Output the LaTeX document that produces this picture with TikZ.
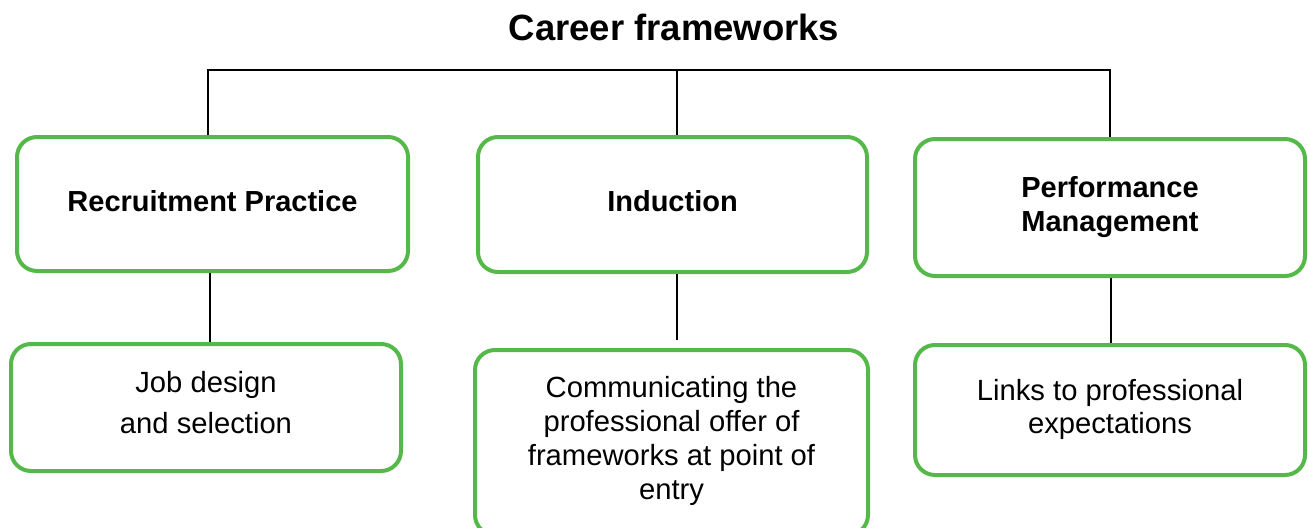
\documentclass[tikz,border=0pt]{standalone}
\usepackage{fontspec}
\setmainfont{Liberation Sans}
\definecolor{boxgreen}{HTML}{54B948}
\begin{document}
\begin{tikzpicture}[x=1pt,y=-1pt,
  card/.style={draw=boxgreen, line width=4pt, rounded corners=20pt, fill=white,
               align=center, inner sep=0pt},
  % the last text line sits on a baseline #1 below the card centre
  lastline/.style={text height={60pt+(#1)}, text depth={60pt-(#1)}},
  headcard/.style={card, font=\fontsize{29}{34}\selectfont\bfseries},
  subcard/.style={card, font=\fontsize{29.2}{34}\selectfont},
  link/.style={draw=black, line width=1.5pt}]
\useasboundingbox (0,0) rectangle (1308,527);

% title
\node[font=\fontsize{36.5}{40}\selectfont\bfseries, anchor=base, inner sep=0pt]
  (title) at (674,41) {Career frameworks};

% first-level cards
\node[headcard, minimum width=391pt, minimum height=134pt, lastline=7pt]
  (rec) at (212.5,204) {Recruitment Practice};
\node[headcard, minimum width=389pt, minimum height=135pt, lastline=6.5pt]
  (ind) at (672.5,204.5) {Induction};
\node[headcard, minimum width=390pt, minimum height=137pt, lastline=23.5pt]
  (perf) at (1110,207.5) {Performance\\Management};

% second-level cards
\node[subcard, minimum width=390pt, minimum height=127pt, lastline=26pt,
      font=\fontsize{29.2}{41}\selectfont]
  (job) at (206,407.5) {Job design\\and selection};
\node[subcard, minimum width=393pt, minimum height=185pt, lastline=56.5pt]
  (comm) at (671.5,442.5)
  {Communicating the\\professional offer of\\frameworks at point of\\entry};
\node[subcard, minimum width=390pt, minimum height=130pt, lastline=23pt,
      font=\fontsize{29.2}{33}\selectfont]
  (links) at (1110,410) {Links to professional\\expectations};

% connectors
\coordinate (bar) at (0,70);
\draw[link] ([xshift=-4.5pt]rec.north) -- ([xshift=-4.5pt]rec.north |- bar)
  -- (perf.north |- bar) -- (perf.north);
\draw[link] ([xshift=4.5pt]ind.north) -- ([xshift=4.5pt]ind.north |- bar);
\draw[link] ([xshift=-2.5pt]rec.south) -- ([xshift=-2.5pt]rec.south |- job.north);
\draw[link] ([xshift=4.5pt]ind.south) -- ([xshift=4.5pt,yshift=8pt]ind.south |- comm.north);
\draw[link] ([xshift=1pt]perf.south) -- ([xshift=1pt]perf.south |- links.north);
\end{tikzpicture}
\end{document}
